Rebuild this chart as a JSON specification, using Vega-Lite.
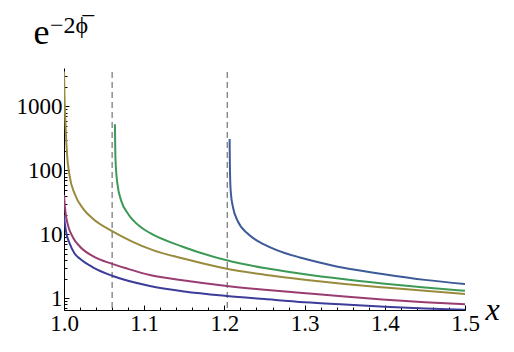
{
  "$schema": "https://vega.github.io/schema/vega-lite/v6.json",
  "autosize": "none",
  "width": 401,
  "height": 242,
  "padding": {"left": 64, "top": 68, "right": 49, "bottom": 42},
  "background": "white",
  "config": {"view": {"stroke": null}, "font": "Liberation Serif"},
  "title": {"text": "−2ϕ̅", "anchor": "start", "frame": "group", "font": "Liberation Serif", "fontSize": 24, "fontWeight": "normal", "color": "black", "baseline": "alphabetic", "offset": 0, "dx": -14, "dy": 43},
  "datasets": {
    "curves": [
      {"s": "a", "x": 1.0, "y": 20}, {"s": "a", "x": 1.001, "y": 15}, {"s": "a", "x": 1.003, "y": 10.3}, {"s": "a", "x": 1.007, "y": 7.2}, {"s": "a", "x": 1.013, "y": 5.05}, {"s": "a", "x": 1.02, "y": 4.14}, {"s": "a", "x": 1.036, "y": 3.05}, {"s": "a", "x": 1.06, "y": 2.25}, {"s": "a", "x": 1.107, "y": 1.56}, {"s": "a", "x": 1.15, "y": 1.28}, {"s": "a", "x": 1.203, "y": 1.09}, {"s": "a", "x": 1.25, "y": 0.975}, {"s": "a", "x": 1.3, "y": 0.87}, {"s": "a", "x": 1.35, "y": 0.8}, {"s": "a", "x": 1.4, "y": 0.74}, {"s": "a", "x": 1.45, "y": 0.695}, {"s": "a", "x": 1.5, "y": 0.66},
      {"s": "b", "x": 1.0, "y": 41}, {"s": "b", "x": 1.001, "y": 28}, {"s": "b", "x": 1.002, "y": 21.3}, {"s": "b", "x": 1.005, "y": 13.8}, {"s": "b", "x": 1.011, "y": 9.0}, {"s": "b", "x": 1.02, "y": 6.4}, {"s": "b", "x": 1.036, "y": 4.55}, {"s": "b", "x": 1.06, "y": 3.45}, {"s": "b", "x": 1.08, "y": 2.88}, {"s": "b", "x": 1.107, "y": 2.31}, {"s": "b", "x": 1.15, "y": 1.9}, {"s": "b", "x": 1.203, "y": 1.56}, {"s": "b", "x": 1.25, "y": 1.36}, {"s": "b", "x": 1.294, "y": 1.22}, {"s": "b", "x": 1.35, "y": 1.065}, {"s": "b", "x": 1.397, "y": 0.96}, {"s": "b", "x": 1.45, "y": 0.87}, {"s": "b", "x": 1.5, "y": 0.81},
      {"s": "c", "x": 1.0, "y": 3500}, {"s": "c", "x": 1.0006, "y": 1500}, {"s": "c", "x": 1.0012, "y": 800}, {"s": "c", "x": 1.002, "y": 480}, {"s": "c", "x": 1.0037, "y": 184}, {"s": "c", "x": 1.007, "y": 82}, {"s": "c", "x": 1.0133, "y": 43}, {"s": "c", "x": 1.024, "y": 25}, {"s": "c", "x": 1.036, "y": 17.5}, {"s": "c", "x": 1.06, "y": 11.2}, {"s": "c", "x": 1.085, "y": 7.7}, {"s": "c", "x": 1.11, "y": 5.7}, {"s": "c", "x": 1.15, "y": 4.15}, {"s": "c", "x": 1.2, "y": 2.95}, {"s": "c", "x": 1.25, "y": 2.34}, {"s": "c", "x": 1.3, "y": 1.95}, {"s": "c", "x": 1.35, "y": 1.67}, {"s": "c", "x": 1.4, "y": 1.47}, {"s": "c", "x": 1.45, "y": 1.31}, {"s": "c", "x": 1.5, "y": 1.17},
      {"s": "d", "x": 1.0635, "y": 525}, {"s": "d", "x": 1.0638, "y": 260}, {"s": "d", "x": 1.0642, "y": 150}, {"s": "d", "x": 1.0665, "y": 63}, {"s": "d", "x": 1.0715, "y": 33}, {"s": "d", "x": 1.08, "y": 20.8}, {"s": "d", "x": 1.096, "y": 12.9}, {"s": "d", "x": 1.107, "y": 10.5}, {"s": "d", "x": 1.148, "y": 6.4}, {"s": "d", "x": 1.203, "y": 3.92}, {"s": "d", "x": 1.25, "y": 2.97}, {"s": "d", "x": 1.294, "y": 2.44}, {"s": "d", "x": 1.35, "y": 1.98}, {"s": "d", "x": 1.397, "y": 1.71}, {"s": "d", "x": 1.45, "y": 1.48}, {"s": "d", "x": 1.5, "y": 1.31},
      {"s": "e", "x": 1.2065, "y": 309}, {"s": "e", "x": 1.2068, "y": 130}, {"s": "e", "x": 1.2072, "y": 72}, {"s": "e", "x": 1.208, "y": 45}, {"s": "e", "x": 1.211, "y": 25.5}, {"s": "e", "x": 1.2165, "y": 16.2}, {"s": "e", "x": 1.23, "y": 10.0}, {"s": "e", "x": 1.25, "y": 6.9}, {"s": "e", "x": 1.266, "y": 5.6}, {"s": "e", "x": 1.294, "y": 4.35}, {"s": "e", "x": 1.306, "y": 3.97}, {"s": "e", "x": 1.35, "y": 2.97}, {"s": "e", "x": 1.397, "y": 2.4}, {"s": "e", "x": 1.45, "y": 1.94}, {"s": "e", "x": 1.5, "y": 1.67}
    ],
    "rules": [
      {"x": 1.06, "y": 3450, "y2": 0.656},
      {"x": 1.2035, "y": 3450, "y2": 0.656}
    ]
  },
  "encoding": {
    "x": {
      "field": "x", "type": "quantitative",
      "scale": {"domain": [1.0, 1.5], "nice": false, "zero": false},
      "axis": {
        "values": [1.0, 1.02, 1.04, 1.06, 1.08, 1.1, 1.12, 1.14, 1.16, 1.18, 1.2, 1.22, 1.24, 1.26, 1.28, 1.3, 1.32, 1.34, 1.36, 1.38, 1.4, 1.42, 1.44, 1.46, 1.48, 1.5],
        "labelExpr": "abs(datum.value*10 - round(datum.value*10)) < 0.001 ? format(datum.value, '.1f') : ''",
        "tickSize": {"condition": {"test": "abs(datum.value*10 - round(datum.value*10)) < 0.001", "value": -5}, "value": -3},
        "grid": false, "domainColor": "black", "tickColor": "black", "domainWidth": 1, "tickWidth": 1,
        "labelFont": "Liberation Serif", "labelFontSize": 23, "labelColor": "black", "labelPadding": 7, "labelFlush": false, "labelOverlap": false,
        "title": "x", "titleFont": "Liberation Serif", "titleFontStyle": "italic", "titleFontWeight": "normal", "titleFontSize": 32, "titleColor": "black",
        "titleX": 421, "titleY": 9, "titleAlign": "left", "titleBaseline": "alphabetic"
      }
    },
    "y": {
      "field": "y", "type": "quantitative",
      "scale": {"type": "log", "domain": [0.656, 3980], "nice": false},
      "axis": {
        "values": [0.7, 0.8, 0.9, 1, 2, 3, 4, 5, 6, 7, 8, 9, 10, 20, 30, 40, 50, 60, 70, 80, 90, 100, 200, 300, 400, 500, 600, 700, 800, 900, 1000, 2000, 3000],
        "labelExpr": "(datum.value == 1 || datum.value == 10 || datum.value == 100 || datum.value == 1000) ? format(datum.value, 'd') : ''",
        "tickSize": {"condition": {"test": "datum.value == 1 || datum.value == 10 || datum.value == 100 || datum.value == 1000", "value": -5}, "value": -3},
        "grid": false, "domainColor": "black", "tickColor": "black", "domainWidth": 1, "tickWidth": 1,
        "labelFont": "Liberation Serif", "labelFontSize": 23, "labelColor": "black", "labelPadding": 7, "labelFlush": false, "labelOverlap": false,
        "title": "e", "titleFont": "Liberation Serif", "titleFontWeight": "normal", "titleFontSize": 36, "titleColor": "black", "titleAngle": 0,
        "titleX": -31, "titleY": -25, "titleAlign": "left", "titleBaseline": "alphabetic"
      }
    }
  },
  "layer": [
    {
      "data": {"name": "rules"},
      "mark": {"type": "rule", "color": "#555555", "strokeDash": [6, 4], "strokeWidth": 1},
      "encoding": {"y2": {"field": "y2"}}
    },
    {
      "data": {"name": "curves"},
      "mark": {"type": "line", "interpolate": "monotone", "strokeWidth": 2, "clip": true},
      "encoding": {
        "color": {"field": "s", "type": "nominal", "legend": null,
          "scale": {"domain": ["a", "b", "c", "d", "e"], "range": ["#3d3d99", "#993d71", "#998b3d", "#3d9956", "#3d5a99"]}}
      }
    }
  ]
}
